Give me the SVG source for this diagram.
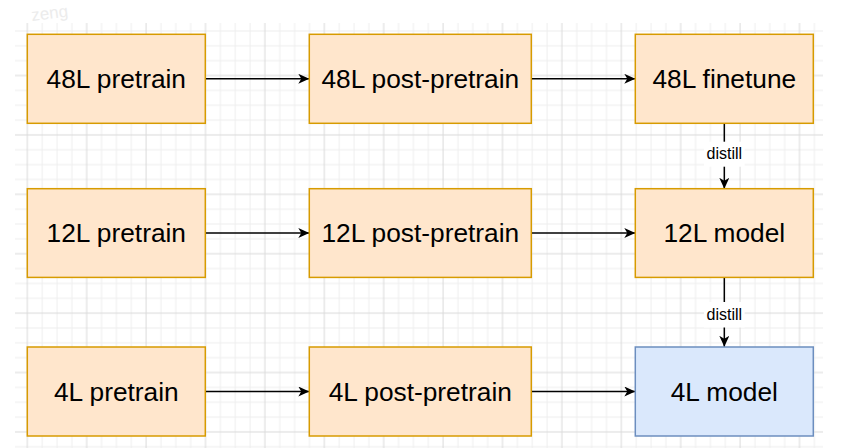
<svg xmlns="http://www.w3.org/2000/svg" width="858" height="448" viewBox="0 0 858 448">
  <style>
    .box { fill: #ffe6cc; stroke: #d79b00; stroke-width: 1.5; }
    .blue { fill: #dae8fc; stroke: #6c8ebf; stroke-width: 1.5; }
    .lbl { font-family: "Liberation Sans", Arial, Helvetica, sans-serif; font-size: 26.3px; fill: #000; text-anchor: middle; }
    .edge { stroke: #000; stroke-width: 1.5; fill: none; marker-end: url(#arrow); }
    .elbl { font-family: "Liberation Sans", Arial, Helvetica, sans-serif; font-size: 16px; fill: #000; text-anchor: middle; }
    .minor { stroke: #eeeeee; stroke-width: 1; }
    .major { stroke: #dadada; stroke-width: 1; }
  </style>
  <defs>
    <marker id="arrow" markerUnits="userSpaceOnUse" markerWidth="12" markerHeight="11" refX="11" refY="5" orient="auto">
      <path d="M0,0 L11,5 L0,10 L3,5 Z" fill="#000"/>
    </marker>
    <pattern id="grid" patternUnits="userSpaceOnUse" x="20.3" y="9.2" width="59.4" height="59.4">
      <path class="minor" d="M21.85,0 V59.4 M36.7,0 V59.4 M51.55,0 V59.4 M0,21.85 H59.4 M0,36.7 H59.4 M0,51.55 H59.4"/>
      <path class="major" d="M7,0 V59.4 M0,7 H59.4"/>
    </pattern>
  </defs>
  <rect width="858" height="448" fill="#ffffff"/>
  <text x="32" y="21" transform="rotate(-7 32 21)" font-family="Liberation Sans, Arial, sans-serif" font-size="17" fill="#ececec">zeng</text>
  <rect x="15" y="23" width="808" height="425" fill="url(#grid)"/>

  <g id="connectors">
    <line class="edge" x1="205.3" y1="78.8" x2="309.3" y2="78.8"/>
    <line class="edge" x1="531.3" y1="78.8" x2="635.3" y2="78.8"/>
    <line class="edge" x1="205.3" y1="233" x2="309.3" y2="233"/>
    <line class="edge" x1="531.3" y1="233" x2="635.3" y2="233"/>
    <line class="edge" x1="205.3" y1="391.5" x2="309.3" y2="391.5"/>
    <line class="edge" x1="531.3" y1="391.5" x2="635.3" y2="391.5"/>
    <line class="edge" x1="724.3" y1="123.5" x2="724.3" y2="188.8"/>
    <line class="edge" x1="724.3" y1="277.5" x2="724.3" y2="346.8"/>
    <rect x="704" y="141.7" width="40.6" height="25" fill="#ffffff"/>
    <text class="elbl" x="724.3" y="159.3">distill</text>
    <rect x="704" y="302" width="40.6" height="25.5" fill="#ffffff"/>
    <text class="elbl" x="724.3" y="320.2">distill</text>
  </g>

  <g id="n48pre"><rect class="box" x="27.3" y="34.3" width="178" height="89"/><text class="lbl" x="116.3" y="88.2">48L pretrain</text></g>
  <g id="n48post"><rect class="box" x="309.3" y="34.3" width="222" height="89"/><text class="lbl" x="420.3" y="88.2">48L post-pretrain</text></g>
  <g id="n48fine"><rect class="box" x="635.3" y="34.3" width="178" height="89"/><text class="lbl" x="724.3" y="88.2">48L finetune</text></g>

  <g id="n12pre"><rect class="box" x="27.3" y="188.7" width="178" height="88.7"/><text class="lbl" x="116.3" y="242.4">12L pretrain</text></g>
  <g id="n12post"><rect class="box" x="309.3" y="188.7" width="222" height="88.7"/><text class="lbl" x="420.3" y="242.4">12L post-pretrain</text></g>
  <g id="n12model"><rect class="box" x="635.3" y="188.7" width="178" height="88.7"/><text class="lbl" x="724.3" y="242.4">12L model</text></g>

  <g id="n4pre"><rect class="box" x="27.3" y="347" width="178" height="89"/><text class="lbl" x="116.3" y="400.9">4L pretrain</text></g>
  <g id="n4post"><rect class="box" x="309.3" y="347" width="222" height="89"/><text class="lbl" x="420.3" y="400.9">4L post-pretrain</text></g>
  <g id="n4model"><rect class="blue" x="635.3" y="347" width="178" height="89"/><text class="lbl" x="724.3" y="400.9">4L model</text></g>
</svg>
